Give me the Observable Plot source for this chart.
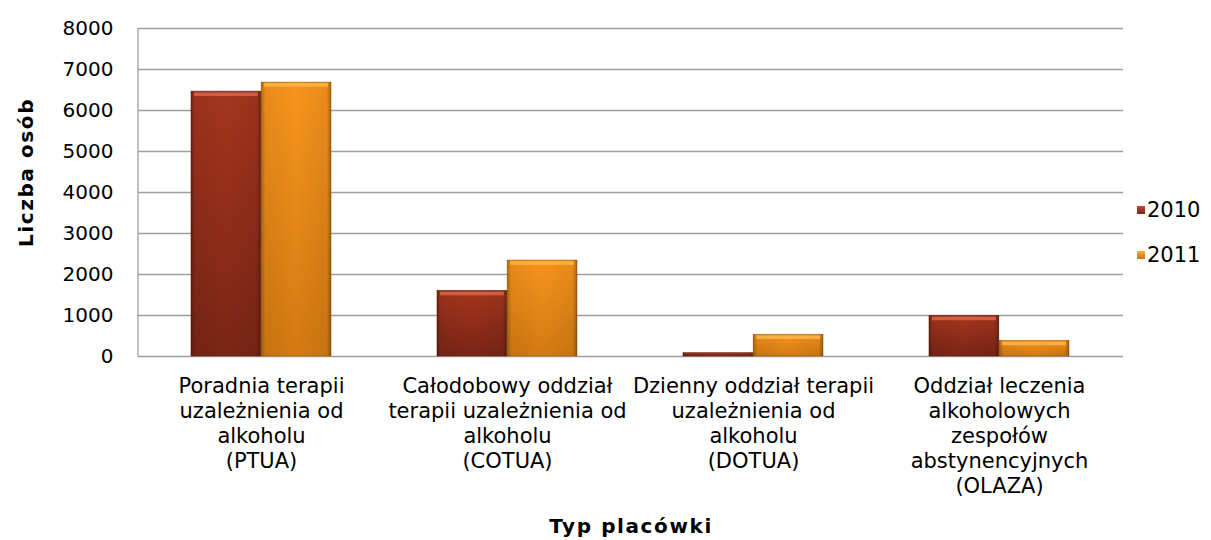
<!DOCTYPE html>
<html>
<head>
<meta charset="utf-8">
<script src="https://cdn.jsdelivr.net/npm/d3@7"></script>
<script src="https://cdn.jsdelivr.net/npm/@observablehq/plot@0.6"></script>
<style>
  html, body { margin: 0; padding: 0; background: #fff; }
  #wrap { position: relative; width: 1211px; height: 540px; font-family: "DejaVu Sans", Verdana, sans-serif; }
  .legend { position: absolute; left: 1137px; font-size: 21px; color: #000; display: flex; align-items: center; }
  .sw { width: 8px; height: 8px; margin-right: 2px; }
</style>
</head>
<body>
<div id="wrap"></div>
<script>
const codes = ["PTUA", "COTUA", "DOTUA", "OLAZA"];
const categoryLabels = [
  "Poradnia terapii\nuzależnienia od\nalkoholu\n(PTUA)",
  "Całodobowy oddział\nterapii uzależnienia od\nalkoholu\n(COTUA)",
  "Dzienny oddział terapii\nuzależnienia od\nalkoholu\n(DOTUA)",
  "Oddział leczenia\nalkoholowych\nzespołów\nabstynencyjnych\n(OLAZA)"
];
const years = ["2010", "2011"];
const values2010 = [6460, 1600, 80, 990];
const values2011 = [6680, 2340, 530, 380];
const yTicks = [0, 1000, 2000, 3000, 4000, 5000, 6000, 7000, 8000];

const d2010 = codes.map((c, i) => ({code: c, value: values2010[i]}));
const d2011 = codes.map((c, i) => ({code: c, value: values2011[i]}));
const labelOf = new Map(codes.map((c, i) => [c, categoryLabels[i]]));

const defs = () => {
  const g = d3.create("svg:defs");
  const mk = (id, stops, horiz) => {
    const lg = g.append("linearGradient").attr("id", id)
      .attr("x1", 0).attr("y1", 0).attr("x2", horiz ? 1 : 0).attr("y2", horiz ? 0 : 1);
    stops.forEach(([o, c, a]) => lg.append("stop").attr("offset", o).attr("stop-color", c).attr("stop-opacity", a ?? 1));
  };
  mk("v2010", [[0, "#a5351d"], [1, "#7a2515"]]);
  mk("v2011", [[0, "#f8941c"], [1, "#d27a12"]]);
  mk("hedge", [[0, "#000", 0.28], [0.06, "#000", 0.06], [0.5, "#000", 0], [0.94, "#000", 0.06], [1, "#000", 0.32]], true);
  return g.node();
};

const W = 1211, H = 540, ML = 138, MR = 88, MT = 28, MB = 184;
const pIn = 0.43, pOut = 0.215;
const bw = (W - ML - MR) / (codes.length - pIn + 2 * pOut) * (1 - pIn);
const half = bw / 2;

const chart = Plot.plot({
  width: W,
  height: H,
  marginLeft: ML,
  marginRight: MR,
  marginTop: MT,
  marginBottom: MB,
  style: {fontFamily: "'DejaVu Sans', Verdana, sans-serif", fontSize: "20px", color: "#000", background: "#fff", overflow: "visible"},
  x: {domain: codes, paddingInner: pIn, paddingOuter: pOut, label: null},
  y: {domain: [0, 8000], label: null},
  marks: [
    defs,
    Plot.ruleY(yTicks, {stroke: "#9e9e9e", strokeWidth: 1.3}),
    Plot.axisY({ticks: yTicks, tickSize: 0, tickPadding: 25, tickFormat: d => String(d), fontSize: 20, label: null}),
    Plot.axisX({tickSize: 0, tickPadding: 19, tickFormat: d => labelOf.get(d), fontSize: 21, lineHeight: 1.19, label: null}),
    // 2010 bars
    Plot.barY(d2010, {x: "code", y: "value", insetRight: half, fill: "url(#v2010)", stroke: "#6a2010", strokeWidth: 0.6}),
    Plot.barY(d2010, {x: "code", y: "value", insetRight: half, fill: "url(#hedge)"}),
    Plot.tickY(d2010.filter(d => d.value > 300), {x: "code", y: "value", insetRight: half + 3, insetLeft: 3, dy: 2.5, stroke: "#d8664c", strokeOpacity: 0.85, strokeWidth: 3.5}),
    // 2011 bars
    Plot.barY(d2011, {x: "code", y: "value", insetLeft: half, fill: "url(#v2011)", stroke: "#a85e0c", strokeWidth: 0.6}),
    Plot.barY(d2011, {x: "code", y: "value", insetLeft: half, fill: "url(#hedge)"}),
    Plot.tickY(d2011.filter(d => d.value > 300), {x: "code", y: "value", insetLeft: half + 3, insetRight: 3, dy: 2.5, stroke: "#fcb548", strokeOpacity: 0.85, strokeWidth: 3.5}),
    Plot.text(["Liczba osób"], {frameAnchor: "left", textAnchor: "middle", rotate: -90, dx: -112, dy: -20, fontWeight: "bold", fontSize: 20, fill: "#000"}),
    Plot.text(["Typ placówki"], {frameAnchor: "bottom", textAnchor: "middle", dy: 176, fontWeight: "bold", fontSize: 20, fill: "#000"})
  ]
});

// left axis line drawn from the plot's own scales
const ys = chart.scale("y"), xs = chart.scale("x");
d3.select(chart).append("line")
  .attr("x1", xs.range[0]).attr("x2", xs.range[0])
  .attr("y1", ys.range[0]).attr("y2", ys.range[1])
  .attr("stroke", "#9e9e9e").attr("stroke-width", 1.3);

// wider bold titles (Verdana Bold is broader than DejaVu Sans Bold)
d3.select(chart).selectAll("text")
  .filter(function () { return this.textContent === "Typ placówki" || this.textContent === "Liczba osób"; })
  .style("letter-spacing", "1.6px");

const wrap = document.getElementById("wrap");
wrap.appendChild(chart);

const legendColors = {"2010": "linear-gradient(#c04a2e, #7a2515)", "2011": "linear-gradient(#fbb040, #c8730f)"};
years.forEach((yr, i) => {
  const el = document.createElement("div");
  el.className = "legend";
  el.style.top = (198 + i * 45) + "px";
  el.innerHTML = `<div class="sw" style="background:${legendColors[yr]}"></div><span>${yr}</span>`;
  wrap.appendChild(el);
});
</script>
</body>
</html>
